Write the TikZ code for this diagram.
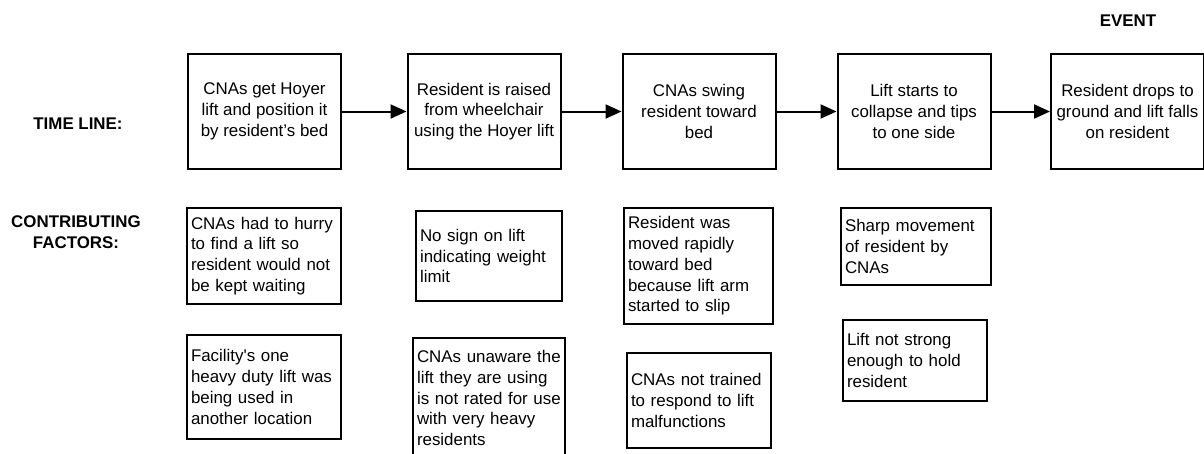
\documentclass[tikz,border=0pt]{standalone}
\usepackage{fontspec}
\setmainfont{Liberation Sans}
\usetikzlibrary{arrows.meta}
\tikzset{
    txt/.style={font=\fontsize{16.9}{20.8}\selectfont},
    heading/.style={txt, font=\fontsize{16.9}{20.8}\selectfont\bfseries, align=center, inner sep=0pt},
    stepbox/.style={txt, draw, line width=2pt, minimum width=153pt, minimum height=115pt, align=center, inner sep=0pt},
    factor/.style={txt, draw, line width=1.2pt, inner xsep=4pt, inner ysep=0pt, align=left},
    flow/.style={line width=2pt, -{Triangle[length=16pt, width=14pt]}}
}
\begin{document}
\begin{tikzpicture}[x=1pt, y=-1pt]
        \useasboundingbox (0,0) rectangle (1204,453);
        % headings
        \node [heading] (time) at (78, 124) {TIME LINE:};
        \node [heading] (contrib) at (76, 232.5) {CONTRIBUTING\\FACTORS:};
        \node [heading] (event) at (1128, 21) {EVENT};
        % time line
        \node [stepbox] (s1) at (264.5, 111.5) {CNAs get Hoyer\\lift and position it\\by resident’s bed};
        \node [stepbox] (s2) at (484, 111.5) {Resident is raised\\from wheelchair\\using the Hoyer lift};
        \node [stepbox] (s3) at (699, 111.5) {CNAs swing\\resident toward\\bed};
        \node [stepbox] (s4) at (914, 111.5) {Lift starts to\\collapse and tips\\to one side};
        \node [stepbox] (s5) at (1127.5, 111.5) {Resident drops to\\ground and lift falls\\on resident};
        \draw [flow] (s1) -- (s2);
        \draw [flow] (s2) -- (s3);
        \draw [flow] (s3) -- (s4);
        \draw [flow] (s4) -- (s5);
        % contributing factors
        \node [factor, text width=146pt, minimum height=96pt] (a1) at (264, 256) {CNAs had to hurry\\to find a lift so\\resident would not\\be kept waiting};
        \node [factor, text width=146pt, minimum height=104pt] (a2) at (264, 387) {Facility\textquotesingle s one\\heavy duty lift was\\being used in\\another location};
        \node [factor, text width=138pt, minimum height=90pt] (b1) at (489, 256) {No sign on lift\\indicating weight\\limit};
        \node [factor, text width=144pt, minimum height=120pt] (b2) at (489, 398) {CNAs unaware the\\lift they are using\\is not rated for use\\with very heavy\\residents};
        \node [factor, text width=141pt, minimum height=116pt] (c1) at (698.5, 266) {Resident was\\moved rapidly\\toward bed\\because lift arm\\started to slip};
        \node [factor, text width=136pt, minimum height=95pt] (c2) at (699, 400.5) {CNAs not trained\\to respond to lift\\malfunctions};
        \node [factor, text width=142pt, minimum height=77pt] (d1) at (916, 246.5) {Sharp movement\\of resident by\\CNAs};
        \node [factor, text width=136pt, minimum height=81pt] (d2) at (915, 360.5) {Lift not strong\\enough to hold\\resident};
\end{tikzpicture}
\end{document}
